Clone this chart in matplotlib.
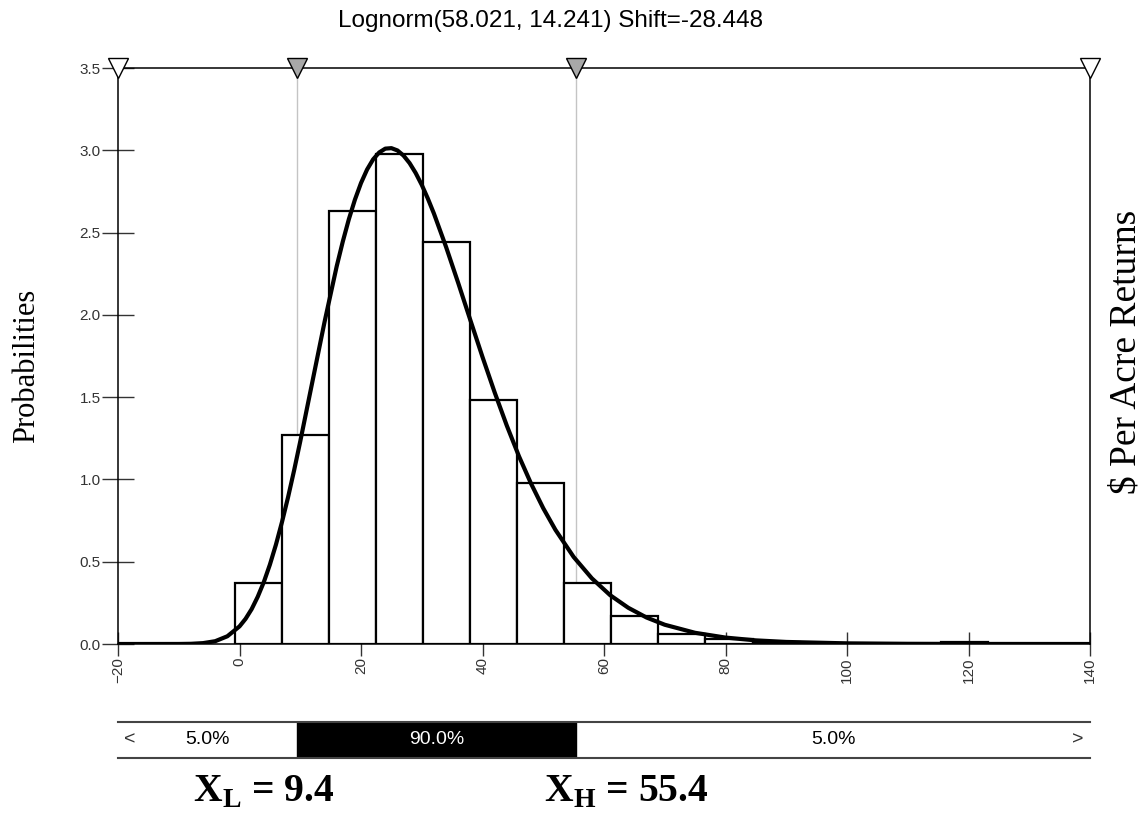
import matplotlib
matplotlib.use("Agg")
import matplotlib.pyplot as plt
import numpy as np

plt.rcParams['font.family'] = ['Liberation Sans', 'DejaVu Sans']
plt.rcParams['mathtext.fontset'] = 'custom'
plt.rcParams['mathtext.rm'] = 'Liberation Serif:bold'
plt.rcParams['mathtext.bf'] = 'Liberation Serif:bold'

# histogram
bin_edges = [-0.8, 6.95, 14.7, 22.45, 30.2, 37.95, 45.7, 53.45, 61.2,
             68.95, 76.7, 84.45, 92.2, 99.95, 107.7, 115.45, 123.2]
bin_heights = [0.37, 1.27, 2.63, 2.98, 2.44, 1.48, 0.98, 0.37, 0.17,
               0.06, 0.03, 0.01, 0.005, 0.0, 0.0, 0.01]

# fitted curve
curve_x = [-20, -10, -8, -6, -4, -2, 0, 1, 2, 3, 4, 5, 6, 7, 8, 9, 10, 12,
           14, 16, 17, 18, 19, 20, 21, 22, 23, 24, 25, 26, 27, 28, 29, 30,
           31, 32, 34, 36, 38, 40, 42, 44, 46, 48, 50, 52, 55, 58, 61, 64,
           67, 70, 75, 80, 85, 90, 100, 110, 120, 140]
curve_y = [0.0, 0.0002, 0.0012, 0.0053, 0.017, 0.047, 0.107, 0.153, 0.212,
           0.287, 0.376, 0.482, 0.604, 0.742, 0.893, 1.057, 1.231, 1.594,
           1.957, 2.295, 2.445, 2.581, 2.700, 2.801, 2.883, 2.945, 2.987,
           3.010, 3.013, 2.999, 2.968, 2.922, 2.862, 2.790, 2.707, 2.616,
           2.413, 2.194, 1.968, 1.744, 1.529, 1.327, 1.141, 0.974, 0.825,
           0.694, 0.529, 0.399, 0.297, 0.220, 0.161, 0.117, 0.068, 0.039,
           0.022, 0.0125, 0.0039, 0.0012, 0.0004, 0.0]

x_low, x_high = 9.4, 55.4
x_min, x_max = -20, 140
pct_labels = ['5.0%', '90.0%', '5.0%']
title = 'Lognorm(58.021, 14.241) Shift=-28.448'

W, H = 1146, 817
fig = plt.figure(figsize=(W / 100, H / 100), dpi=100)

ax = fig.add_axes([118 / W, 1 - 644 / H, 972 / W, 576 / H])
ax.set_axisbelow(True)
ax.bar(bin_edges[:-1], bin_heights, width=np.diff(bin_edges), align='edge',
       facecolor='white', edgecolor='black', linewidth=1.6, zorder=1)
ax.axvline(x_low, color='#c4c4c4', lw=1, zorder=0.8)
ax.axvline(x_high, color='#c4c4c4', lw=1, zorder=0.8)
ax.plot(curve_x, curve_y, color='black', lw=3, zorder=3,
        solid_joinstyle='round', solid_capstyle='round')

ax.set_xlim(x_min, x_max)
ax.set_ylim(0, 3.5)
ax.set_xticks(np.arange(-20, 141, 20))
ax.set_yticks(np.arange(0, 3.51, 0.5))
ax.set_yticklabels([f'{v:.1f}' for v in np.arange(0, 3.51, 0.5)])
ax.tick_params(axis='x', direction='inout', length=17, width=1, pad=1,
               labelsize=11, labelrotation=90, colors='#333333')
ax.tick_params(axis='y', direction='inout', length=23, width=1, pad=1,
               labelsize=11, colors='#333333')
for s in ax.spines.values():
    s.set_color('black')
    s.set_linewidth(1.1)

# triangles on top
for xv, fc in [(x_min, 'white'), (x_low, '#a8a8a8'), (x_high, '#a8a8a8'), (x_max, 'white')]:
    ax.plot(xv, 3.5, marker='v', ms=14, mfc=fc, mec='black', mew=1,
            clip_on=False, zorder=5)

fig.text(550 / W, 1 - 21 / H, title, ha='center', va='center', fontsize=17.5)
fig.text(27 / W, 1 - 366 / H, 'Probabilities', rotation=90, ha='center',
         va='center', fontsize=22, family='Liberation Serif')
fig.text(1126 / W, 1 - 352 / H, '$ Per Acre Returns', rotation=90,
         ha='center', va='center', fontsize=27, family='Liberation Serif')

# bottom percentile strip
bx = fig.add_axes([118 / W, 1 - 758 / H, 972 / W, 36 / H])
bx.set_xlim(x_min, x_max)
bx.set_ylim(0, 1)
bx.axvspan(x_low, x_high, color='black')
bx.set_xticks([])
bx.set_yticks([])
bx.spines['left'].set_visible(False)
bx.spines['right'].set_visible(False)
bx.spines['top'].set_color('#444444')
bx.spines['bottom'].set_color('#444444')
bx.spines['top'].set_linewidth(1.5)
bx.spines['bottom'].set_linewidth(1.5)
centers = [(x_min + x_low) / 2, (x_low + x_high) / 2, (x_high + x_max) / 2]
for cx, lab, col in zip(centers, pct_labels, ['black', 'white', 'black']):
    bx.text(cx, 0.5, lab, ha='center', va='center', fontsize=14, color=col)
bx.text(x_min + 1, 0.5, '<', ha='left', va='center', fontsize=14, color='#333333')
bx.text(x_max - 1, 0.5, '>', ha='right', va='center', fontsize=14, color='#333333')

fig.text(193 / W, 1 - 801 / H, r'$\mathbf{X}_{\mathbf{L}}$ = ' + f'{x_low}',
         ha='left', va='baseline', fontsize=28.5, fontweight='bold',
         family='Liberation Serif')
fig.text(544 / W, 1 - 801 / H, r'$\mathbf{X}_{\mathbf{H}}$ = ' + f'{x_high}',
         ha='left', va='baseline', fontsize=28.5, fontweight='bold',
         family='Liberation Serif')

fig.savefig('out.png', dpi=100)
